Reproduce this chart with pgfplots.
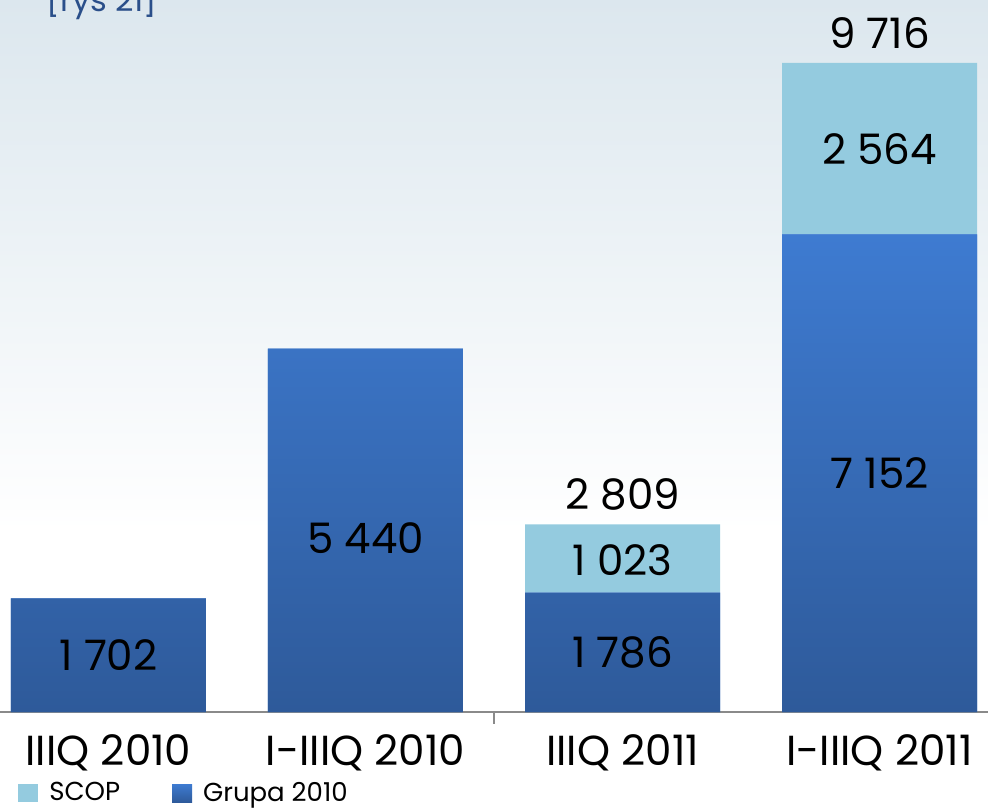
\documentclass[border=0pt]{standalone}
\usepackage{pgfplots}
\pgfplotsset{compat=1.18}
\usepackage{fontspec}
\setmainfont{Poppins}
\definecolor{bgtop}{HTML}{DCE7EE}
\definecolor{gtop}{HTML}{3E7BD1}
\definecolor{gbot}{HTML}{2E5A9A}
\definecolor{scop}{HTML}{94CBDF}
\definecolor{rys}{HTML}{2A4F8A}
\definecolor{axgray}{HTML}{8A8A8A}
\tikzset{vl/.style={font=\fontsize{21}{21}\selectfont, text=black}}
\begin{document}
\begin{tikzpicture}
\useasboundingbox (0,-48.5pt) rectangle (494pt,356pt);
\fill[white] (0,-48.5pt) rectangle (494pt,356pt);
\shade[top color=bgtop, bottom color=white] (0,90pt) rectangle (494pt,356pt);
\node[text=rys, font=\fontsize{16}{16}\selectfont, anchor=base] at (51pt,350pt) {[rys 21]};
\begin{axis}[
  at={(0,0)}, anchor=south west,
  scale only axis, width=494pt, height=356pt,
  xmin=-0.422, xmax=3.422, ymin=0, ymax=10659,
  ybar stacked, bar width=97.5pt,
  hide y axis,
  axis x line*=bottom,
  axis line style={axgray, line width=1pt},
  xtick={0,1,2,3},
  xticklabels={IIIQ 2010, I-IIIQ 2010, IIIQ 2011, I-IIIQ 2011},
  major tick length=0pt,
  x tick label style={font=\fontsize{21}{21}\selectfont, anchor=center, yshift=-20.5pt},
  legend style={at={(0.012,-0.114)}, anchor=west, draw=none, fill=none,
    legend columns=2, font=\fontsize{13}{13}\selectfont,
    /tikz/every odd column/.append style={column sep=3.5pt},
    /tikz/every even column/.append style={column sep=24pt},
    legend cell align=left},
  reverse legend,
  legend image code/.code={\fill (0pt,-4.5pt) rectangle (10pt,4.5pt);},
  clip=false,
]
\addplot[draw=none, fill=gtop, top color=gtop, bottom color=gbot]
  coordinates {(0,1702) (1,5440) (2,1786) (3,7152)};
\addlegendentry{Grupa 2010}
\addplot[draw=none, fill=scop]
  coordinates {(0,0) (1,0) (2,1023) (3,2564)};
\addlegendentry{SCOP}
\coordinate (tk) at (axis cs:1.5,0);
\coordinate (l1) at (axis cs:0,851);
\coordinate (l2) at (axis cs:1,2600);
\coordinate (l3) at (axis cs:2,893);
\coordinate (l4) at (axis cs:2,2270);
\coordinate (l5) at (axis cs:2,3260);
\coordinate (l6) at (axis cs:3,3576);
\coordinate (l7) at (axis cs:3,8434);
\coordinate (l8) at (axis cs:3,10160);
\end{axis}
\draw[axgray, line width=0.8pt] (tk) -- ++(0pt,-6pt);
\node[vl] at (l1) {1 702};
\node[vl] at (l2) {5 440};
\node[vl] at (l3) {1 786};
\node[vl] at (l4) {1 023};
\node[vl] at (l5) {2 809};
\node[vl] at (l6) {7 152};
\node[vl] at (l7) {2 564};
\node[vl] at (l8) {9 716};
\end{tikzpicture}
\end{document}
